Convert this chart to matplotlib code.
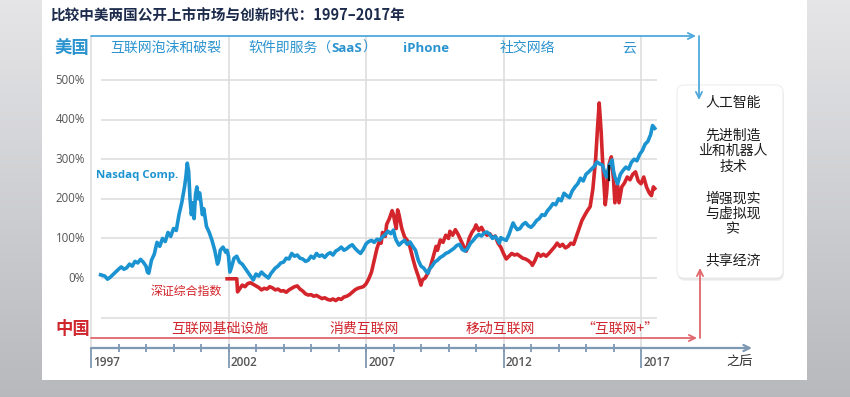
import numpy as np
import matplotlib
matplotlib.use("Agg")
import matplotlib.pyplot as plt
from matplotlib.patches import FancyBboxPatch, Rectangle
from matplotlib.transforms import blended_transform_factory

plt.rcParams['font.family'] = ['Noto Sans CJK SC', 'DejaVu Sans']

# --- values (cumulative return, %) ---
nasdaq_year = [1997.35, 1997.5, 1997.6, 1997.7, 1997.85, 1998.0, 1998.1, 1998.2, 1998.3, 1998.4,
               1998.5, 1998.6, 1998.7, 1998.8, 1998.9, 1999.0, 1999.05, 1999.1, 1999.2, 1999.3,
               1999.4, 1999.5, 1999.6, 1999.7, 1999.8, 1999.9, 2000.0, 2000.1, 2000.2, 2000.3,
               2000.4, 2000.45, 2000.5, 2000.55, 2000.6, 2000.65, 2000.7, 2000.75, 2000.8, 2000.85,
               2000.9, 2000.95, 2001.0, 2001.05, 2001.1, 2001.2, 2001.3, 2001.4, 2001.5, 2001.6,
               2001.65, 2001.7, 2001.8, 2001.9, 2001.95, 2002.0, 2002.05, 2002.1, 2002.2, 2002.3,
               2002.4, 2002.5, 2002.6, 2002.7, 2002.8, 2002.9, 2003.0, 2003.1, 2003.2, 2003.3,
               2003.45, 2003.55, 2003.7, 2003.8, 2003.9, 2004.0, 2004.1, 2004.2, 2004.3, 2004.4,
               2004.5, 2004.6, 2004.7, 2004.8, 2004.9, 2005.0, 2005.1, 2005.2, 2005.3, 2005.4,
               2005.5, 2005.6, 2005.7, 2005.8, 2005.9, 2006.0, 2006.1, 2006.2, 2006.3, 2006.4,
               2006.5, 2006.6, 2006.7, 2006.8, 2006.9, 2007.0, 2007.1, 2007.2, 2007.3, 2007.4,
               2007.5, 2007.6, 2007.7, 2007.8, 2007.9, 2008.0, 2008.05, 2008.1, 2008.2, 2008.3,
               2008.4, 2008.5, 2008.6, 2008.7, 2008.8, 2008.9, 2009.0, 2009.1, 2009.2, 2009.25,
               2009.3, 2009.4, 2009.5, 2009.6, 2009.7, 2009.8, 2009.9, 2010.0, 2010.1, 2010.2,
               2010.3, 2010.4, 2010.5, 2010.6, 2010.7, 2010.8, 2010.9, 2011.0, 2011.1, 2011.2,
               2011.3, 2011.4, 2011.5, 2011.6, 2011.7, 2011.8, 2011.85, 2011.9, 2012.0, 2012.1,
               2012.2, 2012.3, 2012.35, 2012.4, 2012.5, 2012.6, 2012.7, 2012.8, 2012.9, 2013.0,
               2013.1, 2013.2, 2013.3, 2013.4, 2013.5, 2013.6, 2013.7, 2013.8, 2013.9, 2014.0,
               2014.1, 2014.2, 2014.3, 2014.4, 2014.5, 2014.6, 2014.7, 2014.8, 2014.9, 2015.0,
               2015.1, 2015.2, 2015.3, 2015.4, 2015.5, 2015.6, 2015.7, 2015.75, 2015.85, 2015.95,
               2016.0, 2016.05, 2016.15, 2016.25, 2016.35, 2016.45, 2016.55, 2016.65, 2016.75, 2016.85,
               2016.95, 2017.05, 2017.15, 2017.25, 2017.35, 2017.42, 2017.5]
nasdaq_pct = [8, 5, -3, 2, 12, 22, 28, 22, 26, 35,
              30, 42, 38, 47, 40, 30, 15, 12, 45, 60,
              90, 80, 100, 92, 115, 105, 125, 120, 160, 190,
              230, 255, 290, 270, 200, 160, 190, 150, 210, 230,
              200, 215, 190, 160, 175, 130, 115, 95, 70, 35,
              45, 70, 78, 65, 70, 55, 15, 25, 50, 55,
              40, 35, 25, 15, 5, -5, 10, 5, 15, 8,
              0, 12, 25, 30, 38, 40, 50, 48, 62, 55,
              58, 50, 48, 42, 45, 55, 50, 62, 55, 58,
              52, 60, 64, 58, 68, 72, 78, 70, 74, 80,
              84, 75, 68, 62, 72, 86, 92, 95, 90, 98,
              96, 104, 110, 118, 112, 121, 105, 95, 83, 90,
              95, 85, 91, 80, 70, 45, 30, 25, 15, 12,
              22, 30, 40, 45, 52, 56, 62, 65, 70, 75,
              82, 85, 72, 68, 75, 88, 95, 104, 110, 106,
              114, 116, 110, 100, 105, 95, 88, 102, 98, 95,
              110, 130, 139, 132, 122, 125, 135, 140, 132, 128,
              135, 145, 150, 160, 158, 170, 178, 188, 185, 200,
              195, 214, 208, 203, 220, 230, 238, 252, 245, 262,
              268, 275, 282, 293, 288, 285, 262, 255, 285, 298,
              270, 255, 238, 262, 272, 280, 275, 292, 300, 296,
              312, 322, 338, 345, 362, 385, 378]

szse_year = [2001.95, 2002.3, 2002.33, 2002.4, 2002.5, 2002.6, 2002.7, 2002.8, 2002.9, 2003.0,
             2003.1, 2003.2, 2003.3, 2003.4, 2003.5, 2003.6, 2003.7, 2003.8, 2003.9, 2004.0,
             2004.1, 2004.2, 2004.3, 2004.4, 2004.5, 2004.6, 2004.7, 2004.8, 2004.9, 2005.0,
             2005.1, 2005.2, 2005.3, 2005.4, 2005.5, 2005.6, 2005.7, 2005.8, 2005.9, 2006.0,
             2006.1, 2006.2, 2006.3, 2006.4, 2006.5, 2006.6, 2006.7, 2006.8, 2006.9, 2007.0,
             2007.1, 2007.2, 2007.3, 2007.4, 2007.5, 2007.55, 2007.6, 2007.7, 2007.75, 2007.85,
             2007.95, 2008.0, 2008.05, 2008.1, 2008.15, 2008.2, 2008.3, 2008.4, 2008.5, 2008.6,
             2008.7, 2008.8, 2008.9, 2009.0, 2009.05, 2009.15, 2009.25, 2009.35, 2009.45, 2009.55,
             2009.6, 2009.7, 2009.8, 2009.9, 2010.0, 2010.05, 2010.15, 2010.25, 2010.35, 2010.45,
             2010.55, 2010.65, 2010.75, 2010.85, 2010.95, 2011.0, 2011.1, 2011.2, 2011.3, 2011.4,
             2011.5, 2011.6, 2011.7, 2011.8, 2011.9, 2012.0, 2012.1, 2012.2, 2012.3, 2012.4,
             2012.5, 2012.6, 2012.7, 2012.8, 2012.9, 2013.0, 2013.05, 2013.15, 2013.25, 2013.35,
             2013.45, 2013.55, 2013.65, 2013.75, 2013.85, 2013.95, 2014.05, 2014.15, 2014.25, 2014.35,
             2014.45, 2014.55, 2014.65, 2014.75, 2014.85, 2014.95, 2015.05, 2015.15, 2015.25, 2015.35,
             2015.42, 2015.48, 2015.55, 2015.6, 2015.65, 2015.7, 2015.75, 2015.8, 2015.85, 2015.92,
             2016.0, 2016.05, 2016.1, 2016.15, 2016.2, 2016.3, 2016.4, 2016.5, 2016.6, 2016.7,
             2016.8, 2016.9, 2017.0, 2017.1, 2017.2, 2017.3, 2017.38, 2017.45, 2017.5]
szse_pct = [-2, -2, -35, -28, -18, -22, -14, -12, -16, -20,
            -24, -30, -26, -28, -22, -25, -30, -28, -33, -32,
            -36, -30, -26, -22, -20, -28, -33, -40, -43, -42,
            -46, -44, -48, -52, -50, -54, -56, -53, -57, -52,
            -54, -48, -46, -42, -36, -30, -26, -24, -22, -15,
            -2, 15, 45, 75, 95, 88, 115, 105, 135, 150,
            170, 160, 140, 125, 172, 160, 125, 104, 95, 78,
            50, 25, 5, -18, -5, 0, 12, 30, 55, 80,
            70, 96, 90, 108, 100, 118, 108, 122, 110, 95,
            80, 68, 100, 115, 125, 134, 120, 128, 115, 108,
            112, 102, 106, 88, 78, 62, 48, 55, 62, 58,
            60, 55, 50, 48, 44, 38, 32, 45, 62, 55,
            60, 55, 62, 70, 78, 88, 80, 85, 76, 80,
            88, 85, 105, 125, 145, 158, 170, 180, 225, 300,
            380, 442, 370, 300, 240, 185, 215, 265, 290, 306,
            250, 190, 212, 235, 190, 230, 240, 255, 248, 262,
            268, 245, 238, 255, 230, 215, 208, 230, 226]

glitch_year = [2015.84, 2015.84]
glitch_pct = [282, 248]

pct_grid = [-100, 0, 100, 200, 300, 400, 500]
pct_labels = [0, 100, 200, 300, 400, 500]
major_years = [1997, 2002, 2007, 2012, 2017]
minor_years = list(range(1998, 2017))

title = '比较中美两国公开上市市场与创新时代：1997–2017年'
us_eras = ['互联网泡沫和破裂', '软件即服务（', 'SaaS', '）', 'iPhone', '社交网络', '云']
cn_eras = ['互联网基础设施', '消费互联网', '移动互联网', '“互联网+”']
future = ['人工智能', '先进制造\n业和机器人\n技术', '增强现实\n与虚拟现\n实', '共享经济']

BLUE = '#1b93d1'
RED = '#d3252b'
LBL_BLUE = '#2b93cf'
LBL_RED = '#d0262d'
AXIS = '#7f98b3'
GRID = '#dedede'
LATIN = ['Open Sans', 'Noto Sans CJK SC']

# pixel calibration of the reference
W, H = 850, 397
X1997, PX_YR = 91, 27.5
Y0, PX_PCT = 278, 0.396

fig = plt.figure(figsize=(W / 100, H / 100), dpi=100)

# background + white panel (pixel coords)
bg = fig.add_axes([0, 0, 1, 1], zorder=0)
top = np.array([0.90, 0.90, 0.91])
bot = np.array([0.72, 0.725, 0.74])
t = np.linspace(0, 1, H)[:, None, None]
grad = top * (1 - t) + bot * t
grad = np.repeat(grad, W, axis=1)
bg.imshow(grad, extent=(0, W, H, 0), aspect='auto')
bg.add_patch(Rectangle((42, -5), 765, 385, facecolor='white', edgecolor='none'))
bg.set_xlim(0, W)
bg.set_ylim(H, 0)
bg.axis('off')

# data axes: x in years, y in percent
ax = fig.add_axes([0, 0, 1, 1], zorder=1)
ax.patch.set_alpha(0)
ax.set_xlim(1997 - X1997 / PX_YR, 1997 + (W - X1997) / PX_YR)
ax.set_ylim((Y0 - H) / PX_PCT, Y0 / PX_PCT)
ax.axis('off')

# overlay in pixels for the timeline decoration
ov = fig.add_axes([0, 0, 1, 1], zorder=2)
ov.patch.set_alpha(0)
ov.set_xlim(0, W)
ov.set_ylim(H, 0)
ov.axis('off')

yr_px = blended_transform_factory(ax.transData, ov.transData)
px_pct = blended_transform_factory(ov.transData, ax.transData)

# grid
ax.hlines(pct_grid, 1997.36, 2017.58, color=GRID, lw=1.2, zorder=1)
ax.vlines(major_years, 36, 348, color=GRID, lw=1.2, transform=yr_px, zorder=1)
for v in pct_labels:
    ax.text(85, v, f'{v}%', transform=px_pct, ha='right', va='center',
            fontsize=8.3, color='#555555', family=LATIN)

# series
ax.plot(szse_year, szse_pct, color=RED, lw=2.6, solid_joinstyle='round', zorder=3)
ax.plot(nasdaq_year, nasdaq_pct, color=BLUE, lw=2.6, solid_joinstyle='round', zorder=4)
ax.plot(glitch_year, glitch_pct, color='#111111', lw=1.6, zorder=5)

ax.text(1997.18, 260, 'Nasdaq Comp.', color=BLUE, fontsize=8.2, weight='bold',
        family=LATIN, va='center')
ax.text(1999.15, -35, '深证综合指数', color=RED, fontsize=8.6, va='center', weight='medium')

# title and region headers
ov.text(50, 16, title, fontsize=10.5, weight='bold', color='#1c2b4b', va='center')
ov.text(55, 48, '美国', fontsize=12.5, weight='bold', color=LBL_BLUE, va='center')
ov.text(55, 329, '中国', fontsize=12.5, weight='bold', color=LBL_RED, va='center')

# US eras
ov.text(166, 48, us_eras[0], fontsize=10, color=LBL_BLUE, ha='center', va='center')
t1 = ov.text(248, 48, us_eras[1], fontsize=10, color=LBL_BLUE, va='center')
t2 = ov.annotate(us_eras[2], xy=(1, 0.5), xycoords=t1, fontsize=9.5, weight='bold',
                 color=LBL_BLUE, va='center', ha='left', family=LATIN)
ov.annotate(us_eras[3], xy=(1, 0.5), xycoords=t2, fontsize=10, color=LBL_BLUE,
            va='center', ha='left')
ov.text(403, 48, us_eras[4], fontsize=9.5, weight='bold', color=LBL_BLUE, va='center',
        family=LATIN)
ov.text(527, 48, us_eras[5], fontsize=10, color=LBL_BLUE, ha='center', va='center')
ov.text(629, 48, us_eras[6], fontsize=10, color=LBL_BLUE, ha='center', va='center')

# China eras
for txt, cx in zip(cn_eras, [220, 364, 500, 620]):
    ov.text(cx, 329, txt, fontsize=10, color=LBL_RED, ha='center', va='center')

# arrows
arw = dict(shrinkA=0, shrinkB=0, mutation_scale=11)
ov.annotate('', xy=(696, 36), xytext=(91, 36),
            arrowprops=dict(arrowstyle='->', color='#4fa9dc', lw=1.3, **arw))
ov.annotate('', xy=(699, 100), xytext=(699, 36),
            arrowprops=dict(arrowstyle='->', color='#4fa9dc', lw=1.3, **arw))
ov.annotate('', xy=(697, 338), xytext=(91, 338),
            arrowprops=dict(arrowstyle='->', color='#e0666c', lw=1.3, **arw))
ov.annotate('', xy=(700, 268), xytext=(700, 338),
            arrowprops=dict(arrowstyle='->', color='#e0666c', lw=1.3, **arw))
ov.annotate('', xy=(752, 348), xytext=(91, 348),
            arrowprops=dict(arrowstyle='->', color=AXIS, lw=1.6, **arw))

# year ticks
ax.vlines(major_years, 348, 368, color=AXIS, lw=1.3, transform=yr_px, zorder=3)
ax.vlines(minor_years, 344, 352, color=AXIS, lw=1.3, transform=yr_px, zorder=3)
for y in major_years:
    ax.text(y + 0.08, 362, str(y), transform=yr_px, fontsize=8.5, weight='semibold',
            color='#555555', va='center', ha='left', family=LATIN)
ov.text(740, 362, '之后', fontsize=9.5, color='#333333', ha='center', va='center',
        weight='medium')

# future box
for off, a in [(3, 0.05), (1.5, 0.07)]:
    ov.add_patch(FancyBboxPatch((677 + off * 0.3, 85 + off), 106, 193,
                                boxstyle='round,pad=0,rounding_size=7',
                                facecolor='black', edgecolor='none', alpha=a, zorder=1))
ov.add_patch(FancyBboxPatch((677, 85), 106, 193, boxstyle='round,pad=0,rounding_size=7',
                            facecolor='white', edgecolor='#eeeeee', lw=0.8, zorder=2))
for txt, cy in zip(future, [103, 151, 214, 260]):
    ov.text(733, cy, txt, fontsize=10, color='#1a1a1a', ha='center', va='center',
            linespacing=1.15, weight='medium', zorder=3)

fig.savefig('out.png', dpi=100)
